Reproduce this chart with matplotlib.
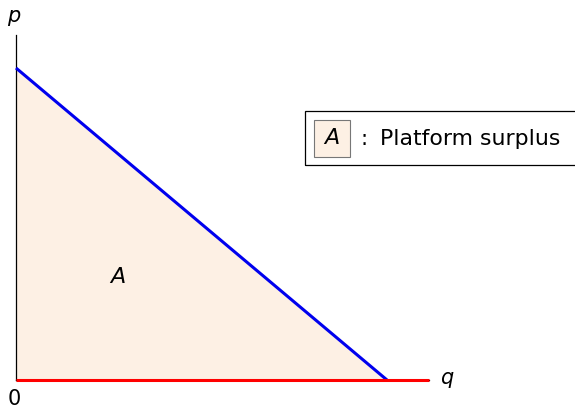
import matplotlib
matplotlib.use("Agg")
import matplotlib.pyplot as plt
from matplotlib.patches import Rectangle

# Data (normalised units)
demand_q = [0.0, 1.0]       # demand line q endpoints
demand_p = [1.0, 0.0]       # demand line p endpoints
supply_q = [0.0, 1.113]     # red line along the q axis
supply_p = [0.0, 0.0]
axis_max_q = 1.113
axis_max_p = 1.106
area_label = "A"
legend_text = "Platform surplus"

fig = plt.figure(figsize=(5.75, 4.08), dpi=100)
ax = fig.add_axes([0, 0, 1, 1])
sx, sy = 371.0, 312.0
ax.set_xlim(-16 / sx, (575 - 16) / sx)
ax.set_ylim(-(408 - 380) / sy, 380 / sy)
ax.axis("off")

fill_col = "#FDF0E4"
ax.fill_between(demand_q, demand_p, [0, 0], color=fill_col, lw=0, zorder=1)

# axes
ax.plot([0, 0], [0, axis_max_p], color="black", lw=0.9, zorder=2)
ax.plot([0, axis_max_q], [0, 0], color="black", lw=0.9, zorder=2)

ax.plot(demand_q, demand_p, color="#0000EE", lw=2.2, zorder=3, solid_capstyle="butt")
ax.plot(supply_q, supply_p, color="#FF0000", lw=2.2, zorder=3, solid_capstyle="butt")

fs = 15
ax.text(-0.005, axis_max_p + 0.028, "p", fontsize=fs, style="italic", ha="center", va="bottom")
ax.text(axis_max_q + 0.03, 0.005, "q", fontsize=fs, style="italic", ha="left", va="center")
ax.text(-0.005, -0.03, "0", fontsize=fs, ha="center", va="top")
ax.text(0.275, 0.33, area_label, fontsize=fs + 1, style="italic", ha="center", va="center")

# legend box
W, H = 575.0, 408.0
ax.add_patch(Rectangle((305 / W, 1 - 165 / H), 280 / W, 54 / H, transform=ax.transAxes,
                       fill=False, edgecolor="black", lw=0.9, clip_on=False, zorder=4))
ax.add_patch(Rectangle((314 / W, 1 - 157 / H), 36 / W, 37 / H, transform=ax.transAxes,
                       facecolor=fill_col, edgecolor="#777777", lw=0.8, zorder=4))
ax.text(332 / W, 1 - 138.5 / H, area_label, transform=ax.transAxes, fontsize=fs + 1,
        style="italic", ha="center", va="center", zorder=5)
ax.text(364 / W, 1 - 139 / H, ":", transform=ax.transAxes, fontsize=fs,
        ha="center", va="center", zorder=5)
ax.text(380 / W, 1 - 139 / H, legend_text, transform=ax.transAxes, fontsize=15.8,
        ha="left", va="center", zorder=5)

fig.savefig("out.png", dpi=100)
